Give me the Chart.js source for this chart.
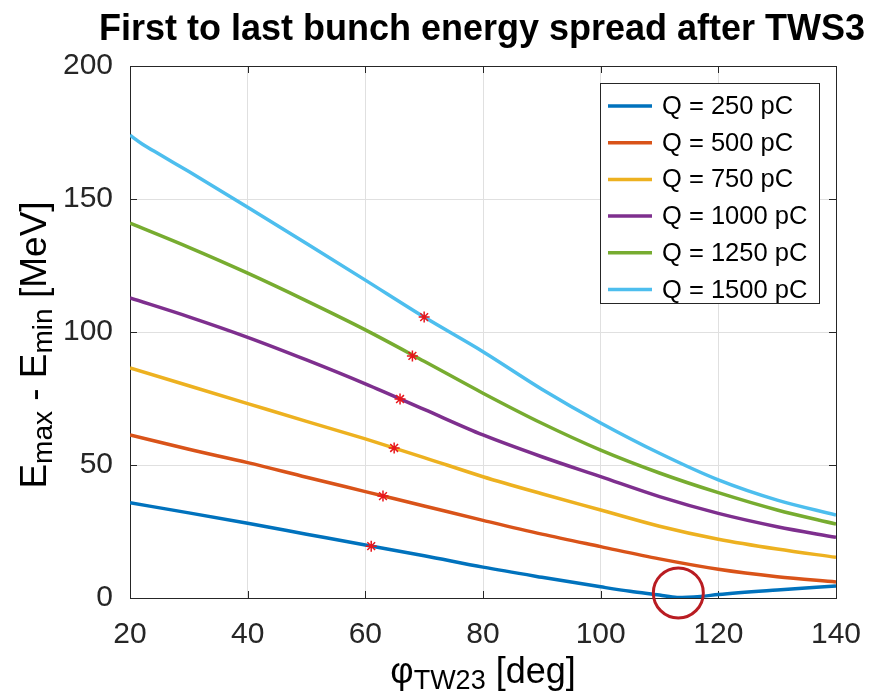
<!DOCTYPE html>
<html><head><meta charset="utf-8">
<script src="https://cdn.jsdelivr.net/npm/chart.js@4.4.1/dist/chart.umd.min.js"></script>
<style>html,body{margin:0;padding:0;background:#fff;} #wrap{width:873px;height:694px;position:relative;}</style>
</head><body><div id="wrap"><canvas id="c" width="873" height="694"></canvas></div>
<script>
// ---- data ----
const titleText = 'First to last bunch energy spread after TWS3';
const seriesLabels = ['Q = 250 pC','Q = 500 pC','Q = 750 pC','Q = 1000 pC','Q = 1250 pC','Q = 1500 pC'];
const phase = [20,30,40,50,60,70,80,90,100,110,120,130,140];
const phaseQ250 = [20,30,40,50,60,70,80,90,100,105,110,113,117,120,130,140];
const phaseQ1500 = [20,22,25,30,40,50,60,70,80,90,100,110,120,130,140];
const q250  = [35.8,32,28.1,24,19.9,15.9,11.6,7.8,4.2,2.5,1.1,0.2,0.6,1.3,3.0,4.5];
const q500  = [61.3,55.9,50.9,45.4,40.0,34.6,29.2,24.0,19.3,14.7,10.8,8.0,6.0];
const q750  = [86.5,79.8,73.1,66.4,59.8,52.8,45.6,39.2,33.1,27.0,22.1,18.4,15.3];
const q1000 = [112.8,105.7,98.0,89.5,80.5,70.9,61.3,53.1,45.6,38.1,31.8,26.8,22.8];
const q1250 = [140.9,131.8,122.1,111.7,100.8,89.0,77.0,65.7,55.6,47.0,39.6,33.1,27.8];
const q1500 = [174,170.8,166.8,160.3,146.9,133.3,119.5,105.6,92.6,78.5,65.8,54.4,44.4,36.8,31.2];
const starPhase = [61.0,63.0,64.9,65.9,68.0,70.0];
const starValue = [19.5,38.3,56.4,74.8,91.0,105.6];
const circlePhase = [113.2];
const circleValue = [1.9];
const xTicks = [20,40,60,80,100,120,140];
const yTicks = [0,50,100,150,200];

const colors = ['#0072BD','#D95319','#EDB120','#7E2F8E','#77AC30','#4DBEEE'];
const xs = [phaseQ250, phase, phase, phase, phase, phaseQ1500];
const ys = [q250,q500,q750,q1000,q1250,q1500];
const toPts = (a,b) => a.map((v,i)=>({x:v,y:b[i]}));

const datasets = [];
datasets.push({type:'scatter', label:'circle', data: toPts(circlePhase,circleValue), pointStyle:'circle', pointRadius:25, pointBorderWidth:3, pointBorderColor:'#b91c22', pointBackgroundColor:'rgba(0,0,0,0)', showLine:false, clip:false, order:0});
datasets.push({type:'scatter', label:'stars', data: toPts(starPhase,starValue), pointStyle:'star', pointRadius:5.5, pointBorderWidth:1.5, pointBorderColor:'#e8161c', pointBackgroundColor:'#e8161c', showLine:false, clip:false, order:1});
for (let i=0;i<6;i++){
  datasets.push({type:'line', label: seriesLabels[i], data: toPts(xs[i], ys[i]), borderColor: colors[i], backgroundColor: colors[i], borderWidth:3.5, pointRadius:0, cubicInterpolationMode:'monotone', fill:false, order: 10+i, isSeries:true});
}

const FONT = '"Liberation Sans", Arial, Helvetica, sans-serif';
const AX = '#262626';

const decor = {
  id:'decor',
  beforeDatasetsDraw(chart){
    const {ctx, chartArea:a, scales:{x,y}} = chart;
    ctx.save();
    ctx.strokeStyle = AX; ctx.lineWidth = 1;
    xTicks.forEach(v=>{ const px = Math.round(x.getPixelForValue(v))+0.5;
      ctx.beginPath(); ctx.moveTo(px,a.bottom); ctx.lineTo(px,a.bottom-7); ctx.stroke();
      ctx.beginPath(); ctx.moveTo(px,a.top); ctx.lineTo(px,a.top+7); ctx.stroke(); });
    yTicks.forEach(v=>{ const py = Math.round(y.getPixelForValue(v))+0.5;
      ctx.beginPath(); ctx.moveTo(a.left,py); ctx.lineTo(a.left+7,py); ctx.stroke();
      ctx.beginPath(); ctx.moveTo(a.right,py); ctx.lineTo(a.right-7,py); ctx.stroke(); });
    ctx.strokeRect(Math.round(a.left)+0.5, Math.round(a.top)+0.5, Math.round(a.right-a.left), Math.round(a.bottom-a.top));
    ctx.restore();
  },
  afterDraw(chart){
    const {ctx, chartArea:a} = chart;
    ctx.save();
    // title
    const cx = (a.left+a.right)/2;
    ctx.fillStyle = '#000';
    ctx.font = 'bold 36px ' + FONT;
    ctx.textAlign = 'center'; ctx.textBaseline = 'alphabetic';
    ctx.fillText(titleText, cx - 1, 40);
    // x label
    const big = '36px ' + FONT, small = '27px ' + FONT;
    const xparts = [['\u03C6',big,0],['TW23',small,6],[' [deg]',big,0]];
    drawParts(ctx, xparts, cx, 683);
    // y label
    const bigY = '37px ' + FONT, smallY = '28px ' + FONT;
    ctx.translate(46, 345);
    ctx.rotate(-Math.PI/2);
    const yparts = [['E',bigY,0],['max',smallY,6],[' - E',bigY,0],['min',smallY,6],[' [MeV]',bigY,0]];
    drawParts(ctx, yparts, 0, 0);
    ctx.restore();
    // legend
    ctx.save();
    const lx=600, ly=83, lw=219, lh=220;
    ctx.fillStyle='#fff'; ctx.fillRect(lx,ly,lw,lh);
    ctx.strokeStyle=AX; ctx.lineWidth=1; ctx.strokeRect(lx+0.5,ly+0.5,lw,lh);
    const items = chart.data.datasets.filter(d=>d.isSeries);
    ctx.font = '25.5px ' + FONT; ctx.textAlign='left'; ctx.textBaseline='middle';
    items.forEach((d,i)=>{
      const yy = 106 + i*36.7;
      ctx.strokeStyle = d.borderColor; ctx.lineWidth = 3.5;
      ctx.beginPath(); ctx.moveTo(608,yy); ctx.lineTo(652,yy); ctx.stroke();
      ctx.fillStyle='#000'; ctx.fillText(d.label, 662, yy+1);
    });
    ctx.restore();
  }
};
function drawParts(ctx, parts, cx, baseY){
  let total = 0;
  parts.forEach(p=>{ ctx.font = p[1]; total += ctx.measureText(p[0]).width; });
  let xx = cx - total/2;
  ctx.textAlign='left'; ctx.textBaseline='alphabetic'; ctx.fillStyle='#000';
  parts.forEach(p=>{ ctx.font = p[1]; ctx.fillText(p[0], xx, baseY + p[2]); xx += ctx.measureText(p[0]).width; });
}

new Chart(document.getElementById('c'), {
  data: { datasets },
  options: {
    responsive:false, animation:false, devicePixelRatio:1,
    layout:{ padding:{ left:0, top:66, right:37, bottom:0 } },
    plugins:{ legend:{display:false}, title:{display:false}, tooltip:{enabled:false} },
    scales:{
      x:{ type:'linear', min:20, max:140, afterFit(s){ s.height = 96; },
          afterBuildTicks(s){ s.ticks = xTicks.map(v=>({value:v})); },
          ticks:{ padding:0, color:AX, font:{family:FONT, size:30}, maxRotation:0 },
          grid:{ color:'#e0e0e0', drawTicks:true, tickLength:19, tickColor:'rgba(0,0,0,0)' }, border:{display:false} },
      y:{ type:'linear', min:0, max:200, afterFit(s){ s.width = 130; },
          afterBuildTicks(s){ s.ticks = yTicks.map(v=>({value:v})); },
          ticks:{ padding:17, color:AX, font:{family:FONT, size:30} },
          grid:{ color:'#e0e0e0', drawTicks:false }, border:{display:false} }
    }
  },
  plugins:[decor]
});
</script></body></html>
